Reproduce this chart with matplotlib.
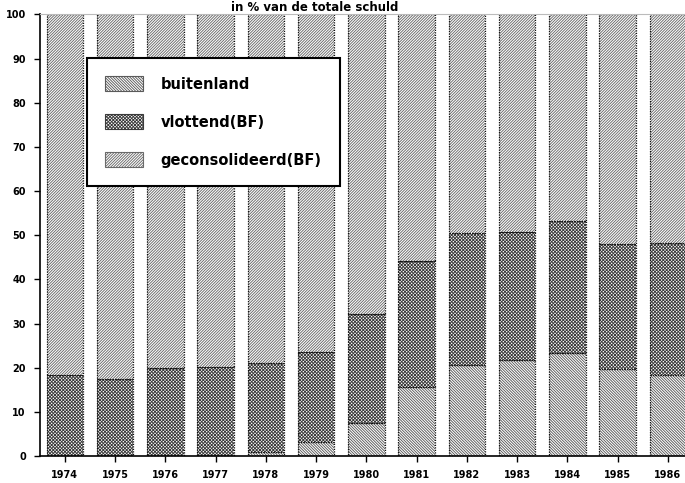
import matplotlib.pyplot as plt
import matplotlib.patches as mpatches
import numpy as np

# Data (percent of total debt)
years = [1974, 1975, 1976, 1977, 1978, 1979, 1980, 1981, 1982, 1983, 1984, 1985, 1986]
buitenland = [0.0, 0.0, 0.0, 0.0, 0.8, 3.1, 7.4, 15.6, 20.6, 21.7, 23.3, 19.7, 18.3]
vlottend_top = [18.3, 17.4, 19.9, 20.1, 21.0, 23.6, 32.2, 44.2, 50.5, 50.7, 53.2, 48.0, 48.2]
vlottend = [t - b for t, b in zip(vlottend_top, buitenland)]
geconsolideerd = [100 - t for t in vlottend_top]
labels = ["buitenland", "vlottend(BF)", "geconsolideerd(BF)"]
yticks = list(range(0, 101, 10))

plt.rcParams['hatch.linewidth'] = 0.65
plt.rcParams['font.family'] = ['DejaVu Sans']

fig = plt.figure(figsize=(6.85, 4.83), dpi=100)
ax = fig.add_axes([0.058, 0.056, 0.942, 0.914])

x = np.array(years)
w = 0.73
series = [buitenland, vlottend, geconsolideerd]
hatches = ['\\' * 12, 'x' * 10, '/' * 12]
hcolors = ['#5a5a5a', '#3a3a3a', '#6a6a6a']

bottom = np.zeros(len(years))
for vals, h, c in zip(series, hatches, hcolors):
    vals = np.array(vals)
    ax.bar(x, vals, w, bottom=bottom, color='white', edgecolor=c, hatch=h, linewidth=0)
    ax.bar(x, vals, w, bottom=bottom, fill=False, edgecolor='#111111',
           linewidth=0.9, linestyle=(0, (1, 1)))
    bottom += vals

ax.set_xlim(1973.5, 1986.34)
ax.set_ylim(0, 100)
ax.set_xticks(years)
ax.set_xticklabels([str(y) for y in years], fontsize=7, fontweight='bold')
ax.set_yticks(yticks)
ax.set_yticklabels([str(t) for t in yticks], fontsize=7, fontweight='bold')
ax.tick_params(direction='out', length=4, width=1, pad=6)
ax.spines['right'].set_visible(False)
ax.spines['top'].set_color('#bbbbbb')
ax.spines['left'].set_linewidth(1.2)
ax.spines['bottom'].set_linewidth(1.2)

# Legend
handles = []
for h, c, lab in zip(hatches, hcolors, labels):
    p = mpatches.Patch(facecolor='white', edgecolor=c, hatch=h, label=lab, linewidth=0.8)
    handles.append(p)
leg = ax.legend(handles=handles, loc='upper left', bbox_to_anchor=(0.073, 0.901),
                prop={'size': 10.5, 'weight': 'bold'}, frameon=True, fancybox=False,
                handlelength=2.6, handleheight=1.2, labelspacing=1.55, borderpad=1.25,
                handletextpad=1.2, borderaxespad=0)
leg.get_frame().set_edgecolor('black')
leg.get_frame().set_linewidth(1.5)
leg.get_frame().set_alpha(1)

# Title at the very top of the scan
fig.text(0.46, 0.978, "in % van de totale schuld", ha='center', va='baseline',
         fontsize=8.5, fontweight='bold')

fig.savefig("out.png", dpi=100)
